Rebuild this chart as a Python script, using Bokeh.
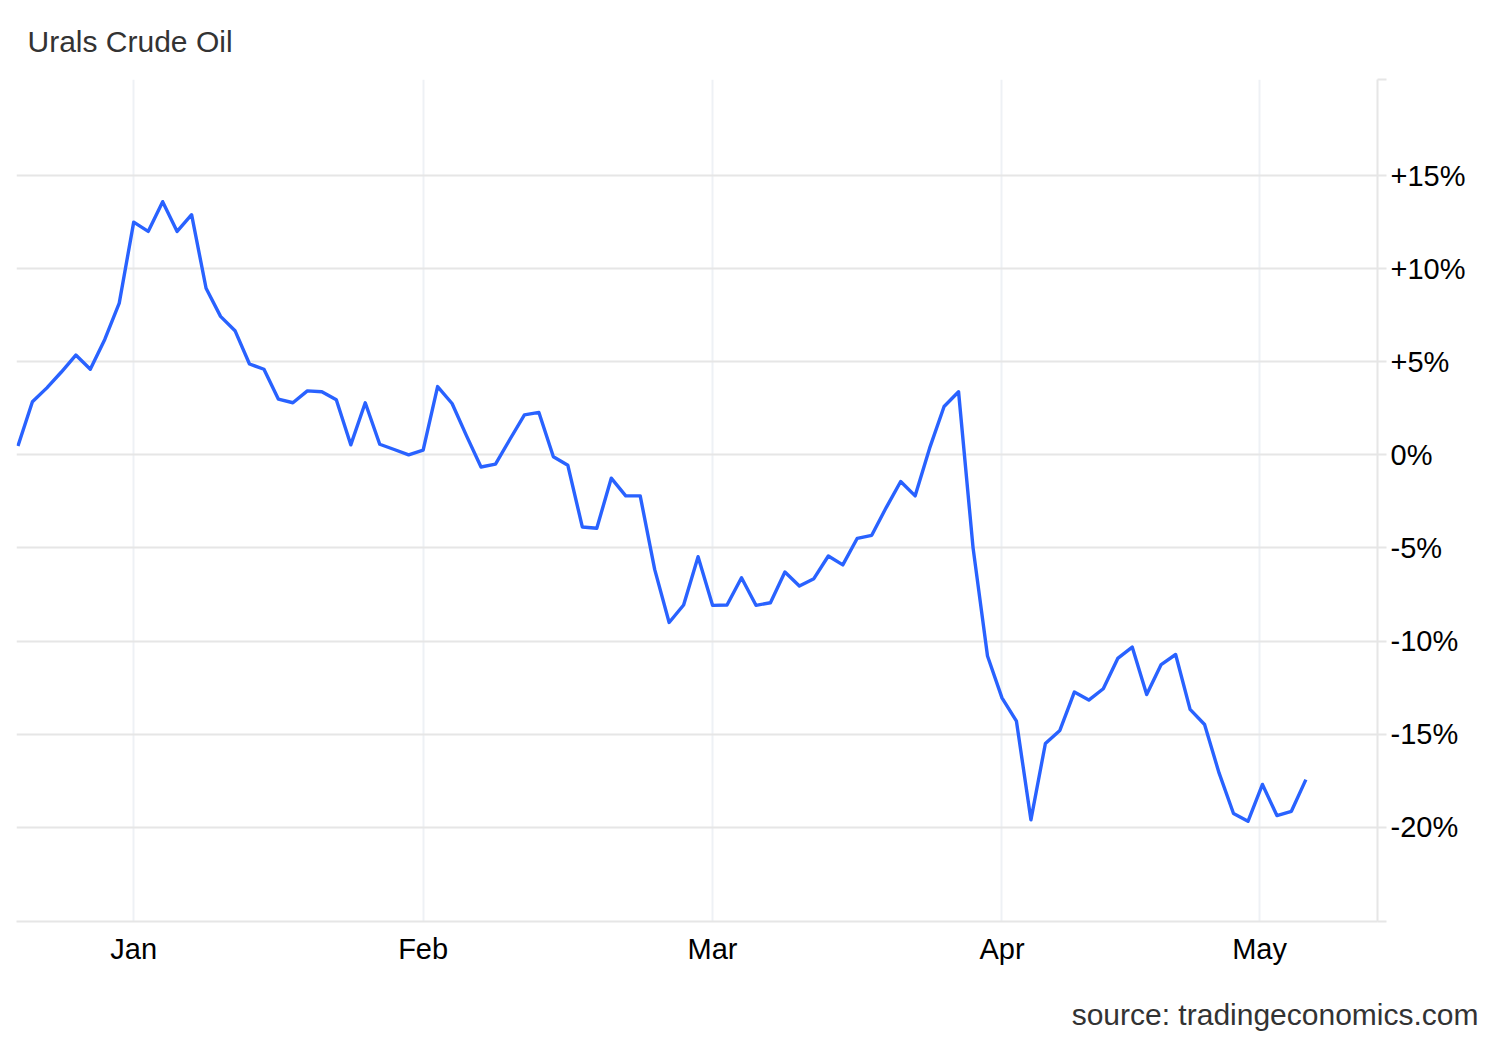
from bokeh.plotting import figure
from bokeh.models import Range1d, FixedTicker, LinearAxis, Title
from bokeh.embed import file_html
from bokeh.resources import INLINE

title_text = "Urals Crude Oil"
source_text = "source: tradingeconomics.com"

# % change (ordinal trading-day positions)
values = [
    0.48, 2.85, 3.6, 4.45, 5.36, 4.6, 6.2, 8.15, 12.5, 12.0,
    13.6, 12.0, 12.9, 8.95, 7.44, 6.67, 4.88, 4.6, 2.99, 2.8,
    3.44, 3.39, 2.96, 0.54, 2.8, 0.57, 0.29, 0.0, 0.25, 3.67,
    2.76, 1.02, -0.65, -0.5, 0.84, 2.15, 2.28, -0.1, -0.56, -3.87,
    -3.94, -1.25, -2.2, -2.2, -6.15, -9.0, -8.06, -5.47, -8.08, -8.06,
    -6.6, -8.08, -7.94, -6.29, -7.04, -6.65, -5.43, -5.91, -4.48, -4.32,
    -2.83, -1.43, -2.2, 0.36, 2.6, 3.39, -4.98, -10.8, -13.05, -14.3,
    -19.6, -15.5, -14.8, -12.74, -13.17, -12.56, -10.93, -10.32, -12.87, -11.26,
    -10.72, -13.67, -14.48, -17.08, -19.26, -19.68, -17.7, -19.37, -19.14, -17.44,
]
positions = list(range(len(values)))

month_labels = ["Jan", "Feb", "Mar", "Apr", "May"]
month_ticks = [8, 28, 48, 68, 85.8]

y_ticks = [-20, -15, -10, -5, 0, 5, 10, 15]
y_tick_labels = ["-20%", "-15%", "-10%", "-5%", "0%", "+5%", "+10%", "+15%"]

Y_MIN, Y_MAX = -25.06, 20.16
X_MIN, X_MAX = -0.10, 93.95

FONT = "Liberation Sans"

p = figure(
    width=1492, height=1040,
    output_backend="svg", toolbar_location=None,
    x_range=Range1d(X_MIN, X_MAX), y_range=Range1d(Y_MIN, Y_MAX),
    min_border_left=16, min_border_right=115, min_border_top=79, min_border_bottom=119,
    y_axis_location=None,
)
p.outline_line_color = None
p.background_fill_color = "white"
p.border_fill_color = "white"

# title
p.title.text = title_text
p.title.align = "left"
p.title.offset = 11
p.title.text_font = FONT
p.title.text_font_size = "30px"
p.title.text_font_style = "normal"
p.title.text_color = "#333333"
p.title.standoff = 43

# x axis
p.xaxis.ticker = FixedTicker(ticks=month_ticks)
p.xaxis.major_label_overrides = dict(zip(month_ticks, month_labels))
p.xaxis.major_tick_out = 0
p.xaxis.major_tick_in = 0
p.xaxis.minor_tick_line_color = None
p.xaxis.axis_line_color = "#e6e6e6"
p.xaxis.axis_line_width = 2
p.xaxis.major_label_text_font = FONT
p.xaxis.major_label_text_font_size = "29px"
p.xaxis.major_label_text_color = "#000000"
p.xaxis.major_label_standoff = 11

# y axis on right
yt_all = [Y_MIN] + y_ticks + [Y_MAX]
overrides = dict(zip(y_ticks, y_tick_labels))
overrides[Y_MIN] = ""
overrides[Y_MAX] = ""
yaxis = LinearAxis(
    ticker=FixedTicker(ticks=yt_all),
    major_label_overrides=overrides,
    axis_line_color="#e6e6e6", axis_line_width=2,
    major_tick_line_color="#e6e6e6", major_tick_line_width=2,
    major_tick_out=9, major_tick_in=0,
    minor_tick_line_color=None,
    major_label_text_font=FONT,
    major_label_text_font_size="29px",
    major_label_text_color="#000000",
    major_label_standoff=4,
)
p.add_layout(yaxis, "right")

# invisible spacer panel between the month labels and the source note
p.extra_x_ranges = {"spacer": Range1d(0, 1)}
spacer = LinearAxis(
    x_range_name="spacer",
    ticker=FixedTicker(ticks=[0.5]),
    major_label_overrides={0.5: ""},
    axis_line_color=None,
    major_tick_line_color=None, major_tick_out=23, major_tick_in=0,
    minor_tick_line_color=None,
    major_label_standoff=0,
    major_label_text_font_size="1px",
)
p.add_layout(spacer, "below")

src = Title(text=source_text, align="right", offset=-101,
            text_font=FONT, text_font_size="30px", text_font_style="normal",
            text_color="#333333", standoff=10)
p.add_layout(src, "below")

# grids
p.xgrid.ticker = FixedTicker(ticks=month_ticks)
p.xgrid.grid_line_color = "#eef1f5"
p.xgrid.grid_line_width = 2
p.ygrid.ticker = FixedTicker(ticks=yt_all)
p.ygrid.grid_line_color = "#e6e6e6"
p.ygrid.grid_line_width = 2

p.line(positions, values, line_color="#2962ff", line_width=3.4, line_join="round")

open("out.html", "w").write(file_html(p, INLINE))
